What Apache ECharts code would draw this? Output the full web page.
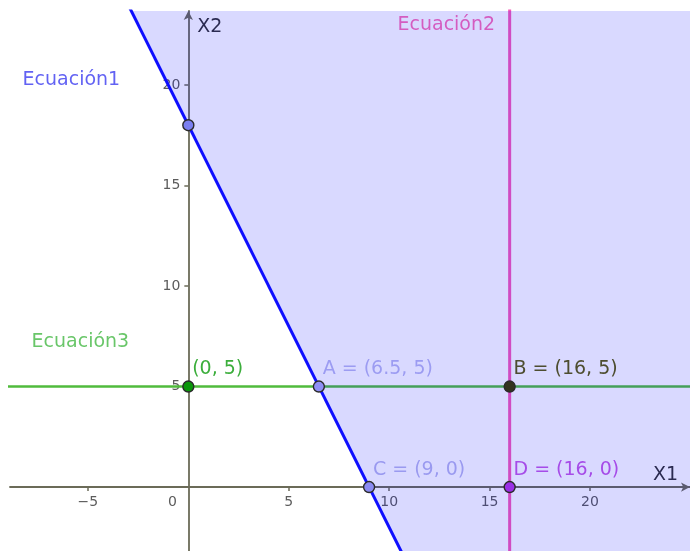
<!DOCTYPE html>
<html>
<head>
<meta charset="utf-8">
<script src="https://cdn.jsdelivr.net/npm/echarts@6/dist/echarts.min.js"></script>
<style>
  html, body { margin: 0; padding: 0; background: #fff; }
  #main { width: 690px; height: 551px; }
</style>
</head>
<body>
<div id="main"></div>
<script>
  // ejes
  const xTickValues = [-5, 0, 5, 10, 15, 20];
  const xTickLabels = ['\u22125', '0', '5', '10', '15', '20'];
  const yTickValues = [5, 10, 15, 20];
  const yTickLabels = ['5', '10', '15', '20'];

  // rectas (extremos fuera de la vista, se recortan)
  const ecuacion1 = [[-4, 26], [12, -6]];   // x2 = 18 - 2 x1
  const ecuacion2 = [[16, -6], [16, 26]];   // x1 = 16
  const ecuacion3 = [[-10, 5], [26, 5]];    // x2 = 5
  // región factible (a la derecha de Ecuación1)
  const region = [[-4, 26], [12, -6], [26, -6]];

  // puntos
  const pointNames = ['', '', 'A', 'B', 'C', 'D'];
  const pointX = [0, 0, 6.5, 16, 9, 16];
  const pointY = [18, 5, 5, 5, 0, 0];
  const pointShowLabel = [false, true, true, true, true, true];
  const pointFill = ['#7b7ff0', '#0a960a', '#8f8ff5', '#33331f', '#8a8af2', '#9a2fe6'];
  const pointText = ['#7b7ff0', '#3cae3c', '#9c9cf2', '#4d4d30', '#9a9af0', '#a64ce8'];

  // rótulos de ecuaciones
  const eqNames = ['Ecuación1', 'Ecuación2', 'Ecuación3'];
  const eqPos = [[-8.23, 20.22], [10.44, 22.94], [-7.78, 7.21]];
  const eqColors = ['#3b3bf0', '#d23cb0', '#44b844'];

  const font = 'DejaVu Sans';
  const xMin = -8.88, xMax = 24.98, yMin = -3.18, yMax = 23.68;
  const gridL = 10, gridT = 11, gridW = 680, gridH = 540;
  // los ejes cruzan en el origen
  const xAxisOffset = -(0 - yMin) / (yMax - yMin) * gridH;
  const yAxisOffset = -(0 - xMin) / (xMax - xMin) * gridW;

  let chart = echarts.init(document.getElementById('main'));

  const lineSeries = (data, color, width) => ({
    type: 'line',
    data: data,
    symbol: 'none',
    silent: true,
    z: 2,
    lineStyle: { color: color, width: width }
  });

  const axisColor = '#6b6b58';

  chart.setOption({
    animation: false,
    grid: { left: gridL, top: gridT, width: gridW, height: gridH, containLabel: false, outerBoundsMode: 'none' },
    xAxis: {
      type: 'value',
      min: xMin,
      max: xMax,
      position: 'bottom',
      offset: xAxisOffset,
      name: 'X1',
      nameLocation: 'end',
      nameGap: -12,
      nameTextStyle: { fontFamily: font, fontSize: 19, color: '#333', align: 'right', verticalAlign: 'bottom', padding: [0, 0, 3, 0] },
      axisLine: { onZero: false, symbol: ['none', 'arrow'], symbolSize: [7, 9], lineStyle: { color: axisColor, width: 1.8 } },
      axisTick: { show: true, length: 4, customValues: [-5, 5, 10, 15, 20], lineStyle: { color: axisColor, width: 1.5 } },
      axisLabel: {
        customValues: xTickValues,
        margin: 8,
        fontFamily: font,
        fontSize: 14,
        color: '#5c5c5c',
        formatter: function (v) {
          const s = xTickLabels[xTickValues.indexOf(v)];
          return v === 0 ? '{z|' + s + '}' : s;
        },
        rich: { z: { fontFamily: font, fontSize: 14, color: '#5c5c5c', padding: [0, 32, 0, 0] } }
      },
      splitLine: { show: false }
    },
    yAxis: {
      type: 'value',
      min: yMin,
      max: yMax,
      position: 'left',
      offset: yAxisOffset,
      name: 'X2',
      nameLocation: 'end',
      nameGap: -7,
      nameTextStyle: { fontFamily: font, fontSize: 19, color: '#333', align: 'left', verticalAlign: 'top', padding: [0, 0, 0, 9] },
      axisLine: { onZero: false, symbol: ['none', 'arrow'], symbolSize: [7, 9], lineStyle: { color: axisColor, width: 1.8 } },
      axisTick: { show: true, length: 4, customValues: yTickValues, lineStyle: { color: axisColor, width: 1.5 } },
      axisLabel: {
        customValues: yTickValues,
        margin: 8,
        fontFamily: font,
        fontSize: 14,
        color: '#5c5c5c',
        formatter: function (v) { return yTickLabels[yTickValues.indexOf(v)]; }
      },
      splitLine: { show: false }
    },
    series: [
      lineSeries(ecuacion3, '#50bb3c', 2.5),
      lineSeries(ecuacion2, '#f55ab8', 3),
      lineSeries(ecuacion1, '#1010ff', 3),
      {
        type: 'line',
        data: region,
        symbol: 'none',
        silent: true,
        z: 3,
        lineStyle: { width: 0 },
        areaStyle: { origin: 'end', color: 'rgba(0,0,255,0.15)', opacity: 1 }
      },
      {
        type: 'scatter',
        z: 5,
        symbolSize: 11,
        data: pointX.map((x, i) => ({
          value: [x, pointY[i]],
          itemStyle: { color: pointFill[i], borderColor: '#2a2a2a', borderWidth: 1.4, opacity: 1 },
          label: {
            show: pointShowLabel[i],
            formatter: (pointNames[i] ? pointNames[i] + ' = ' : '') + '(' + x + ', ' + pointY[i] + ')',
            color: pointText[i]
          }
        })),
        label: {
          position: [10, -11],
          align: 'left',
          verticalAlign: 'middle',
          fontFamily: font,
          fontSize: 19
        }
      },
      {
        type: 'scatter',
        z: 5,
        symbolSize: 1,
        silent: true,
        itemStyle: { color: 'rgba(0,0,0,0)' },
        data: eqNames.map((n, i) => ({
          value: eqPos[i],
          label: { show: true, formatter: n, color: eqColors[i] }
        })),
        label: {
          position: [0, 0],
          align: 'left',
          verticalAlign: 'middle',
          fontFamily: font,
          fontSize: 19
        }
      }
    ]
  });
</script>
</body>
</html>
